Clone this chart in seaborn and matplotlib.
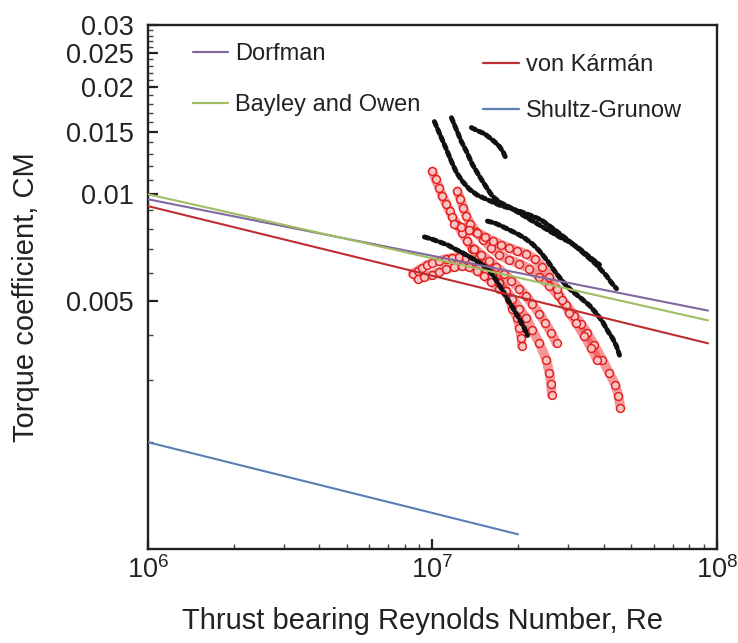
import numpy as np
import pandas as pd
import matplotlib
matplotlib.use("Agg")
import matplotlib.pyplot as plt
import seaborn as sns
from matplotlib.ticker import FixedLocator, NullFormatter, FixedFormatter
from matplotlib.lines import Line2D

# ---------------- data (Re in units of 1e7, CM in units of 1e-3) ----------------
RE_UNIT = 1e7
CM_UNIT = 1e-3

# theory correlations (end points)
dorfman_re = [0.1, 9.3]
dorfman_cm = [9.68, 4.70]
bayley_re = [0.1, 9.3]
bayley_cm = [10.0, 4.41]
karman_re = [0.1, 9.3]
karman_cm = [9.26, 3.80]
shultz_re = [0.1, 2.0]
shultz_cm = [2.00, 1.10]

# measured data, black series
black_a_re = [1.016, 1.067, 1.120, 1.166, 1.214, 1.275, 1.349, 1.439, 1.548, 1.720, 1.865, 2.022,
              2.247, 2.416, 2.578, 2.751, 2.958, 3.207, 3.478, 3.772, 4.089, 4.258, 4.434]
black_a_cm = [16.02, 14.63, 13.37, 12.37, 11.52, 10.87, 10.33, 9.94, 9.68, 9.32, 9.14, 8.96,
              8.68, 8.46, 8.14, 7.83, 7.48, 7.10, 6.71, 6.33, 5.89, 5.63, 5.42]
black_b_re = [1.166, 1.214, 1.264, 1.317, 1.382, 1.463, 1.548, 1.625, 1.720, 1.865, 2.022, 2.193,
              2.377, 2.578, 2.796, 3.030, 3.286, 3.563, 3.864]
black_b_cm = [16.43, 15.21, 14.07, 13.20, 12.13, 11.23, 10.46, 9.87, 9.50, 9.20, 8.85, 8.51,
              8.19, 7.88, 7.58, 7.34, 7.02, 6.66, 6.33]
black_c_re = [1.371, 1.439, 1.523, 1.586, 1.652, 1.720, 1.776, 1.820]
black_c_cm = [15.41, 15.11, 14.82, 14.45, 14.07, 13.63, 13.11, 12.53]
black_d_re = [1.561, 1.652, 1.748, 1.865, 1.990, 2.106, 2.247, 2.377, 2.536, 2.729, 2.911, 3.105,
              3.340, 3.563, 3.772, 3.958, 4.122, 4.293, 4.434, 4.543]
black_d_cm = [8.40, 8.30, 8.14, 7.93, 7.73, 7.53, 7.24, 6.92, 6.49, 5.97, 5.60, 5.32,
              5.08, 4.86, 4.61, 4.38, 4.13, 3.93, 3.73, 3.52]
black_e_re = [0.937, 0.992, 1.058, 1.129, 1.195, 1.275, 1.349, 1.428, 1.499, 1.586, 1.652, 1.720,
              1.791, 1.865, 1.942, 2.022, 2.106, 2.158]
black_e_cm = [7.58, 7.48, 7.34, 7.20, 7.02, 6.84, 6.66, 6.49, 6.33, 6.09, 5.82, 5.53,
              5.25, 4.95, 4.70, 4.44, 4.19, 4.00]

# measured data, red series
red_a_re = [1.000, 1.025, 1.058, 1.084, 1.120, 1.148, 1.176, 1.224, 1.275, 1.327, 1.382, 1.463,
            1.548, 1.625, 1.720, 1.791, 1.865, 1.911, 1.990, 2.022, 2.055, 2.060]
red_a_cm = [11.60, 11.02, 10.39, 9.87, 9.38, 8.96, 8.62, 8.19, 7.78, 7.38, 7.02, 6.66,
            6.29, 5.97, 5.67, 5.35, 5.08, 4.76, 4.47, 4.19, 3.93, 3.73]
red_b_re = [1.224, 1.254, 1.285, 1.317, 1.360, 1.428, 1.511, 1.612, 1.720, 1.865, 2.022, 2.193,
            2.377, 2.578, 2.751, 2.958, 3.156, 3.340, 3.506, 3.711, 3.958, 4.190, 4.398, 4.506, 4.580]
red_b_cm = [10.20, 9.68, 9.14, 8.68, 8.24, 7.83, 7.43, 7.06, 6.75, 6.53, 6.37, 6.17,
            5.85, 5.53, 5.21, 4.86, 4.55, 4.30, 4.06, 3.75, 3.41, 3.13, 2.90, 2.70, 2.50]
red_c_re = [0.851, 0.886, 0.922, 0.960, 1.000, 1.058, 1.120, 1.176, 1.244, 1.317, 1.382, 1.463,
            1.548, 1.625, 1.720, 1.820, 1.911, 2.022, 2.140, 2.247, 2.377, 2.516, 2.578, 2.610, 2.625]
red_c_cm = [5.97, 6.09, 6.20, 6.33, 6.41, 6.49, 6.58, 6.62, 6.66, 6.62, 6.49, 6.33,
            6.12, 5.89, 5.63, 5.35, 5.08, 4.76, 4.47, 4.13, 3.80, 3.41, 3.13, 2.92, 2.72]
red_d_re = [1.195, 1.264, 1.349, 1.439, 1.536, 1.638, 1.748, 1.865, 1.990, 2.140, 2.284, 2.435,
            2.578, 2.729, 2.864, 3.030, 3.207, 3.422, 3.622, 3.802]
red_d_cm = [8.24, 8.08, 7.93, 7.78, 7.58, 7.38, 7.20, 7.06, 6.92, 6.79, 6.58, 6.24,
            5.85, 5.42, 5.02, 4.64, 4.33, 3.98, 3.68, 3.41]
red_e_re = [1.405, 1.487, 1.586, 1.679, 1.791, 1.895, 2.022, 2.140, 2.247, 2.377, 2.495, 2.620, 2.729]
red_e_cm = [7.02, 6.75, 6.49, 6.24, 5.97, 5.71, 5.42, 5.15, 4.89, 4.61, 4.33, 4.06, 3.80]
red_f_re = [0.886, 0.937, 1.000, 1.058, 1.120, 1.195, 1.275, 1.349, 1.439, 1.523, 1.612, 1.720]
red_f_cm = [5.78, 5.85, 5.93, 6.05, 6.17, 6.24, 6.29, 6.24, 6.09, 5.89, 5.67, 5.42]

theory_names = ["Dorfman", "Bayley and Owen", "von Kármán", "Shultz-Grunow"]
theory_colors = ["#8068a0", "#9fbd62", "#bf2d2f", "#5a7fb3"]

# ---------------- build tidy frames ----------------
def frame(re, cm, name):
    return pd.DataFrame({"Re": np.asarray(re) * RE_UNIT,
                         "CM": np.asarray(cm) * CM_UNIT,
                         "series": name})

theory = pd.concat([
    frame(dorfman_re, dorfman_cm, theory_names[0]),
    frame(bayley_re, bayley_cm, theory_names[1]),
    frame(karman_re, karman_cm, theory_names[2]),
    frame(shultz_re, shultz_cm, theory_names[3]),
], ignore_index=True)

black = pd.concat([
    frame(black_a_re, black_a_cm, "b1"), frame(black_b_re, black_b_cm, "b2"),
    frame(black_c_re, black_c_cm, "b3"), frame(black_d_re, black_d_cm, "b4"),
    frame(black_e_re, black_e_cm, "b5"),
], ignore_index=True)

red = pd.concat([
    frame(red_a_re, red_a_cm, "r1"), frame(red_b_re, red_b_cm, "r2"),
    frame(red_c_re, red_c_cm, "r3"), frame(red_d_re, red_d_cm, "r4"),
    frame(red_e_re, red_e_cm, "r5"), frame(red_f_re, red_f_cm, "r6"),
], ignore_index=True)

# ---------------- style ----------------
sns.set_theme(style="white")
plt.rcParams["font.family"] = ["Liberation Sans", "DejaVu Sans"]
plt.rcParams["mathtext.fontset"] = "custom"
plt.rcParams["mathtext.rm"] = "Liberation Sans"
plt.rcParams["mathtext.it"] = "Liberation Sans:italic"

fig = plt.figure(figsize=(7.38, 6.43), dpi=100)
ax = fig.add_axes([0.2005, 0.1462, 0.7710, 0.8149])
ax.set_xscale("log")
ax.set_yscale("log")

# red measured data (open circles along chains)
for name, g in red.groupby("series", sort=False):
    sns.lineplot(data=g, x="Re", y="CM", ax=ax, sort=False, estimator=None,
                 color="#ee4040", lw=7.0, alpha=0.55, legend=False)
    ax.lines[-1].set_dashes([0.45, 0.35])
    ax.lines[-1].set_dash_capstyle("round")
sns.scatterplot(data=red, x="Re", y="CM", ax=ax, marker="o", s=32,
                facecolor="#f8c4c4", edgecolor="#e41a1a", linewidth=1.0,
                legend=False, zorder=3)

# black measured data (dot chains)
for name, g in black.groupby("series", sort=False):
    sns.lineplot(data=g, x="Re", y="CM", ax=ax, sort=False, estimator=None,
                 color="#111111", lw=3.6, legend=False)
    ax.lines[-1].set_dashes([0.9, 0.75])
    ax.lines[-1].set_dash_capstyle("round")
    ax.lines[-1].set_zorder(4)

# theory lines
sns.lineplot(data=theory, x="Re", y="CM", hue="series", hue_order=theory_names,
             palette=theory_colors, ax=ax, sort=False, estimator=None, lw=1.5,
             legend=False, zorder=5)

# ---------------- axes ----------------
ax.set_xlim(1e6, 1e8)
ax.set_ylim(1e-3, 3e-2)

ax.xaxis.set_major_locator(FixedLocator([1e6, 1e7, 1e8]))
ax.xaxis.set_major_formatter(FixedFormatter([r"$\mathregular{10^{6}}$",
                                             r"$\mathregular{10^{7}}$",
                                             r"$\mathregular{10^{8}}$"]))
ax.xaxis.set_minor_locator(FixedLocator([k * 10 ** e for e in (6, 7) for k in range(2, 10)]))
ax.xaxis.set_minor_formatter(NullFormatter())

yt = [0.005, 0.01, 0.015, 0.02, 0.025, 0.03]
ax.yaxis.set_major_locator(FixedLocator(yt))
ax.yaxis.set_major_formatter(FixedFormatter(["0.005", "0.01", "0.015", "0.02", "0.025", "0.03"]))
yminor = [0.002, 0.003, 0.004, 0.006, 0.007, 0.008, 0.009] + \
         [k / 1000 for k in range(11, 30) if k not in (15, 20, 25)]
ax.yaxis.set_minor_locator(FixedLocator(yminor))
ax.yaxis.set_minor_formatter(NullFormatter())

ax.tick_params(axis="both", which="major", direction="in", length=7.5, width=1.6,
               color="#222222")
ax.tick_params(axis="both", which="minor", direction="in", length=3.5, width=1.0,
               color="#444444")
ax.tick_params(axis="y", which="both", left=True, right=False)
ax.tick_params(axis="x", which="both", bottom=True, top=False)
ax.tick_params(axis="y", which="major", labelsize=19.5, pad=10, labelcolor="#222222")
ax.tick_params(axis="x", which="major", labelsize=19.5, pad=5, labelcolor="#222222")

for sp in ax.spines.values():
    sp.set_visible(True)
    sp.set_color("#222222")
    sp.set_linewidth(1.7)

ax.set_xlabel("Thrust bearing Reynolds Number, Re", fontsize=21, color="#222222")
ax.set_ylabel("Torque coefficient, CM", fontsize=21, color="#222222")
ax.xaxis.set_label_coords(0.483, -0.11)
ax.yaxis.set_label_coords(-0.19, 0.48)
ax.grid(False)

# ---------------- legends ----------------
handles = [Line2D([], [], color=c, lw=1.6) for c in theory_colors]
leg1 = ax.legend(handles[:2], theory_names[:2], loc="upper left",
                 bbox_to_anchor=(0.079, 0.965), frameon=False, fontsize=17,
                 handlelength=1.5, handletextpad=0.3, labelspacing=1.22,
                 borderpad=0, borderaxespad=0, labelcolor="#222222")
ax.add_artist(leg1)
ax.legend(handles[2:], theory_names[2:], loc="upper left",
          bbox_to_anchor=(0.589, 0.944), frameon=False, fontsize=17,
          handlelength=1.5, handletextpad=0.3, labelspacing=1.0,
          borderpad=0, borderaxespad=0, labelcolor="#222222")

fig.savefig("out.png", dpi=100)
